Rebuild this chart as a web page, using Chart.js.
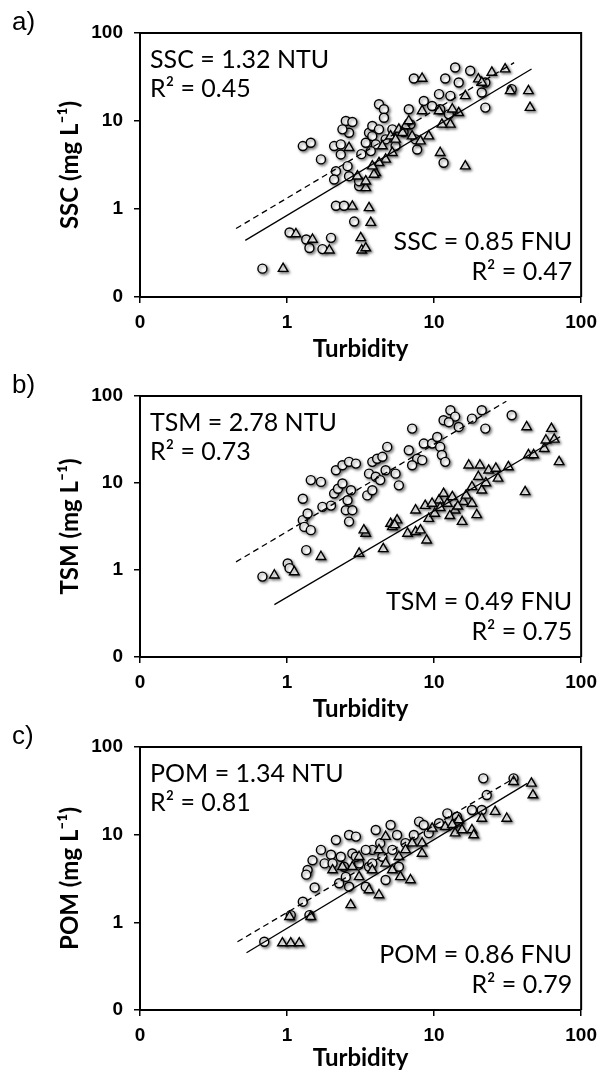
<!DOCTYPE html>
<html><head><meta charset="utf-8">
<script src="https://cdn.jsdelivr.net/npm/chart.js@4.4.1/dist/chart.umd.min.js"></script>
<style>
html,body{margin:0;padding:0;background:#fff;width:605px;height:1072px;overflow:hidden;position:relative}
canvas{position:absolute;left:0}
</style></head><body>
<canvas id="ca" width="605" height="365" style="top:0px"></canvas>
<canvas id="cb" width="605" height="362" style="top:363px"></canvas>
<canvas id="cc" width="605" height="364" style="top:714px"></canvas>
<script>
// ---------- data ----------
const tickValues = [0.1, 1, 10, 100];
const tickLabels = ['0', '1', '10', '100'];

const sscNTU = [[0.68,0.21],[1.04,0.54],[1.35,0.45],[1.42,0.36],[1.74,0.35],[1.99,0.47],[2.86,0.72],[2.15,1.09],[2.44,1.09],[1.28,5.19],[1.45,5.66],[1.70,3.66],[2.09,5.19],[2.32,5.42],[2.32,4.17],[2.51,10.0],[2.78,9.75],[2.64,7.36],[2.38,8.04],[2.15,2.69],[2.09,2.16],[2.58,3.07],[2.64,2.36],[3.09,1.82],[3.09,2.07],[3.61,7.36],[3.80,6.74],[4.01,5.42],[3.71,4.55],[4.22,15.5],[4.56,13.6],[4.56,10.9],[3.80,8.77],[4.68,6.18],[5.20,8.04],[5.47,5.19],[6.73,13.6],[7.67,4.75],[7.48,6.18],[6.91,9.16],[7.28,30.4],[8.51,16.9],[9.69,14.8],[10.8,20.2],[11.0,13.6],[11.9,30.4],[12.9,19.3],[13.9,40.6],[14.7,27.4],[17.6,37.2],[22.3,14.2],[21.1,21.1],[22.3,27.4],[33.7,23.0],[11.6,3.35],[12.6,11.9],[4.22,8.04],[3.43,5.66],[6.2,7.5],[3.2,4.2]];
const sscFNU = [[0.94,0.21],[1.15,0.52],[1.49,0.45],[1.94,0.34],[3.17,0.47],[3.61,1.03],[3.71,0.70],[3.22,0.34],[3.43,0.36],[2.78,1.07],[3.43,1.74],[4.01,2.58],[3.90,2.47],[2.64,4.97],[8.29,30.4],[20.0,29.9],[21.1,27.4],[24.7,35.6],[30.4,38.9],[16.3,19.3],[43.8,22.0],[44.9,14.2],[32.9,22.0],[11.0,4.36],[16.3,3.07],[5.06,6.74],[5.76,8.04],[6.39,8.77],[6.73,10.0],[7.09,6.74],[8.08,5.9],[9.20,6.74],[8.29,13.0],[10.8,13.0],[12.9,9.16],[11.3,9.16],[14.7,12.4],[13.3,13.6],[5.20,4.36],[4.68,3.66],[4.22,3.35],[3.80,3.07],[3.01,2.36],[3.43,2.07],[4.45,5.19],[5.47,6.18],[6.1,7.36]];
const sscFitNTU = [[0.45,0.6],[35,46]];
const sscFitFNU = [[0.52,0.44],[46,39]];
const sscNotes = ['SSC = 1.32 NTU','R\u00B2 = 0.45','SSC = 0.85 FNU','R\u00B2 = 0.47'];

const tsmNTU = [[0.68,0.84],[1.01,1.19],[1.04,1.05],[1.35,1.69],[1.28,3.74],[1.31,3.13],[1.45,2.87],[1.38,4.46],[1.28,6.6],[1.45,10.8],[1.70,10.3],[1.74,5.32],[1.99,5.5],[2.09,7.56],[2.22,8.6],[2.38,9.86],[2.15,14.0],[2.38,16.0],[2.64,17.5],[2.51,4.87],[2.78,4.87],[2.58,6.34],[2.64,3.6],[2.72,8.26],[2.94,16.7],[3.61,12.8],[3.51,7.2],[3.80,17.5],[4.1,19.0],[4.45,20.0],[4.8,26.0],[4.68,14.0],[4.01,11.8],[4.3,10.8],[5.47,12.8],[5.76,9.4],[6.73,23.8],[7.67,19.0],[7.09,16.0],[7.09,42.2],[8.51,28.4],[9.69,28.4],[10.5,33.8],[11.0,26.0],[11.3,21.0],[11.9,17.5],[11.6,52.6],[12.9,68.5],[13.9,58.0],[14.7,44.1],[18.1,54.9],[21.1,68.5],[22.3,42.2],[33.7,60.0],[12.6,50.0],[8.3,18.3],[3.8,8.26]];
const tsmFNU = [[0.82,0.87],[1.12,0.95],[1.70,1.42],[3.09,1.55],[3.43,2.63],[3.33,2.87],[4.51,1.75],[5.06,3.42],[5.2,3.13],[5.6,3.74],[6.6,2.63],[7.48,2.75],[8.9,2.20],[7.48,4.87],[8.7,5.5],[9.2,3.9],[10.1,4.46],[10.8,6.34],[11.6,7.56],[12.3,5.81],[13.3,6.93],[13.9,4.87],[15.5,3.6],[15.8,6.1],[18.1,5.81],[19.5,4.3],[18.1,9.02],[20.0,11.8],[21.1,8.26],[20.5,16.0],[23.5,14.0],[26.3,14.7],[27.2,11.3],[32.0,15.3],[41.6,7.9],[43.8,21.0],[47.5,21.0],[42.6,44.1],[56.1,24.8],[57.6,31.0],[62.8,42.2],[70.8,17.5],[65.6,31.7],[17.2,16.0],[9.69,5.81],[8.08,2.87],[11.0,5.2],[14.5,5.4],[16.5,7.2],[5.4,3.3],[12.8,4.2],[22.5,10.0]];
const tsmFitNTU = [[0.45,1.24],[31,87]];
const tsmFitFNU = [[0.82,0.40],[72,34]];
const tsmNotes = ['TSM = 2.78 NTU','R\u00B2 = 0.73','TSM = 0.49 FNU','R\u00B2 = 0.75'];

const pomNTU = [[0.70,0.60],[1.06,1.21],[1.28,1.72],[1.42,1.21],[1.54,2.5],[1.38,3.95],[1.35,3.5],[1.49,5.1],[1.70,6.7],[1.80,4.7],[1.99,5.9],[2.15,8.7],[2.32,5.6],[2.44,4.3],[2.64,9.9],[2.94,9.5],[2.78,6.1],[2.64,2.55],[3.09,4.7],[3.43,2.55],[3.61,4.3],[3.80,6.7],[4.01,11.3],[4.3,8.0],[4.45,5.6],[4.68,3.04],[5.06,12.9],[5.2,6.7],[5.6,9.9],[5.76,4.3],[6.39,8.0],[7.28,9.9],[7.9,14.1],[8.5,12.9],[9.2,10.4],[10.8,13.5],[12.3,17.5],[14.3,16.0],[14.7,14.1],[18.1,19.1],[21.1,19.1],[21.6,43.9],[22.8,28.3],[34.7,43.9],[2.26,2.79],[2.51,3.3],[2.94,5.6],[2.04,4.7],[3.43,6.7],[3.80,4.7]];
const pomFNU = [[0.93,0.58],[1.06,0.58],[1.21,0.58],[1.04,1.16],[1.45,1.16],[2.71,1.58],[3.61,2.34],[4.22,2.05],[6.91,3.04],[5.9,3.3],[2.38,4.3],[3.09,3.3],[3.80,3.95],[4.68,4.7],[5.2,3.95],[5.76,5.6],[6.39,6.7],[7.09,8.0],[8.29,6.1],[8.29,8.0],[9.7,11.8],[11.9,12.3],[13.9,10.4],[15.5,11.3],[18.1,11.3],[18.6,9.9],[21.1,15.3],[26.0,18.3],[31.2,15.3],[34.7,40.2],[45.9,38.5],[47.0,28.3],[14.7,14.7],[13.3,13.0],[4.22,6.7],[4.68,9.5],[3.09,5.6],[2.78,4.3],[2.04,3.95]];
const pomFitNTU = [[0.46,0.60],[35,44]];
const pomFitFNU = [[0.53,0.45],[43,38.5]];
const pomNotes = ['POM = 1.34 NTU','R\u00B2 = 0.81','POM = 0.86 FNU','R\u00B2 = 0.79'];

const xTitle = 'Turbidity';

// ---------- drawing ----------
const toXY = arr => arr.map(p => ({x: p[0], y: p[1]}));

const decor = {
  id: 'decor',
  beforeDatasetDraw(chart, args) {
    if (chart.data.datasets[args.index].shadow) {
      const c = chart.ctx; c.save();
      c.shadowColor = 'rgba(0,0,0,0.5)'; c.shadowBlur = 3;
      c.shadowOffsetX = 1.5; c.shadowOffsetY = 1.5;
    }
  },
  afterDatasetDraw(chart, args) {
    if (chart.data.datasets[args.index].shadow) chart.ctx.restore();
  },
  afterDraw(chart, args, o) {
    const a = chart.chartArea, c = chart.ctx;
    c.save();
    c.strokeStyle = '#000'; c.lineWidth = 2;
    c.beginPath(); c.moveTo(a.left, a.top); c.lineTo(a.right, a.top); c.lineTo(a.right, a.bottom); c.stroke();
    c.fillStyle = '#000'; c.textBaseline = 'middle'; c.textAlign = 'left';
    c.font = '26px "Liberation Sans"';
    c.fillText(o.label, 12, a.top - 10);
    c.font = '25px Lato';
    c.fillText(o.notes[0], a.left + 10, a.top + 27);
    c.fillText(o.notes[1], a.left + 10, a.top + 56);
    c.textAlign = 'right';
    c.fillText(o.notes[2], a.right - 9, a.bottom - 55);
    c.fillText(o.notes[3], a.right - 9, a.bottom - 25);
    c.restore();
  }
};

function makeAxis(isX, title, titlePad) {
  return {
    type: 'logarithmic', min: 0.1, max: 100,
    afterBuildTicks: s => { s.ticks = tickValues.map(v => ({value: v})); },
    afterFit: s => { if (isX) s.height = 68; else s.width = 140; },
    ticks: {
      callback: (v, i) => tickLabels[i],
      autoSkip: false, maxRotation: 0, color: '#000',
      padding: isX ? 8 : 11,
      font: {family: '"Liberation Sans", Arial', weight: 'bold', size: 19}
    },
    grid: {drawOnChartArea: false, drawTicks: true, tickLength: 6, color: '#000', lineWidth: 1.5},
    border: {display: true, color: '#000', width: 2},
    title: {
      display: true, text: title, color: '#000',
      font: {family: 'Lato', weight: 'bold', size: 24},
      padding: isX ? {top: 0, bottom: titlePad} : {top: 56, bottom: 0}
    }
  };
}

function makePanel(id, label, yTitle, ntu, fnu, fitN, fitF, notes, xPad) {
  new Chart(document.getElementById(id), {
    type: 'scatter',
    data: {
      datasets: [
        {data: toXY(fitN), showLine: true, pointRadius: 0, borderColor: '#000', borderWidth: 1.3, borderDash: [6, 4], fill: false},
        {data: toXY(fitF), showLine: true, pointRadius: 0, borderColor: '#000', borderWidth: 1.3, fill: false},
        {data: toXY(fnu), pointStyle: 'triangle', pointRadius: 5.5, borderWidth: 1.4, borderColor: '#000', backgroundColor: '#fff', shadow: true},
        {data: toXY(ntu), pointStyle: 'circle', pointRadius: 4.5, borderWidth: 1.4, borderColor: '#000', backgroundColor: '#fff', shadow: true}
      ]
    },
    options: {
      responsive: false, animation: false, events: [],
      layout: {padding: {top: 33, right: 21, left: 0, bottom: 0}},
      plugins: {legend: {display: false}, tooltip: {enabled: false},
        decor: {label: label, notes: notes}},
      scales: {x: makeAxis(true, xTitle, xPad), y: makeAxis(false, yTitle, 0)}
    },
    plugins: [decor]
  });
}

makePanel('ca', 'a)', 'SSC (mg L\u207B\u00B9)', sscNTU, sscFNU, sscFitNTU, sscFitFNU, sscNotes, 1);
makePanel('cb', 'b)', 'TSM (mg L\u207B\u00B9)', tsmNTU, tsmFNU, tsmFitNTU, tsmFitFNU, tsmNotes, 1);
makePanel('cc', 'c)', 'POM (mg L\u207B\u00B9)', pomNTU, pomFNU, pomFitNTU, pomFitFNU, pomNotes, 5);
</script>
</body></html>
